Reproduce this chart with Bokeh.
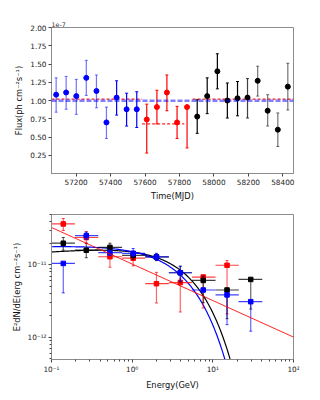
import numpy as np
from bokeh.plotting import figure
from bokeh.layouts import column
from bokeh.models import (ColumnDataSource, FixedTicker, NumeralTickFormatter,
                          CustomJSTickFormatter, Span)
from bokeh.embed import file_html
from bokeh.resources import INLINE

# ---------------- light curve data (flux in units of 1e-7 ph cm^-2 s^-1) ----------------
mjd_blue = [57084, 57142, 57201, 57259, 57318, 57376, 57435, 57493, 57552]
flux_blue = [1.08, 1.11, 1.06, 1.31, 1.13, 0.70, 1.04, 0.88, 0.88]
up_blue = [1.31, 1.33, 1.29, 1.55, 1.35, 0.91, 1.27, 1.10, 1.12]
lo_blue = [0.84, 0.88, 0.81, 1.07, 0.90, 0.48, 0.80, 0.65, 0.63]
alpha_blue = [0.55, 0.55, 0.55, 0.55, 0.55, 0.55, 1.0, 1.0, 1.0]

mjd_red = [57610, 57669, 57727, 57786, 57844]
flux_red = [0.74, 0.91, 1.11, 0.70, 0.91]
up_red = [0.95, 1.14, 1.35, 0.92, 0.92]
lo_red = [0.28, 0.68, 0.86, 0.48, 0.35]
alpha_red = [1.0, 1.0, 1.0, 1.0, 1.0]

mjd_black = [57903, 57961, 58020, 58078, 58137, 58195, 58254, 58312, 58371, 58429]
flux_black = [0.78, 1.06, 1.40, 1.00, 1.03, 1.04, 1.27, 0.86, 0.60, 1.19]
up_black = [1.01, 1.31, 1.64, 1.24, 1.26, 1.30, 1.47, 1.08, 0.83, 1.51]
lo_black = [0.55, 0.82, 1.16, 0.76, 0.79, 0.76, 1.06, 0.65, 0.37, 0.87]
alpha_black = [1.0, 1.0, 1.0, 1.0, 1.0, 0.75, 0.55, 0.55, 0.55, 0.55]

mean_flux = 0.995
block_start = [57057, 57583, 57876]
block_end = [57583, 57828, 58462]
block_level = [1.02, 0.68, 1.02]

time_ticks = [57200, 57400, 57600, 57800, 58000, 58200, 58400]
flux_ticks = [0.25, 0.50, 0.75, 1.00, 1.25, 1.50, 1.75, 2.00]

# ---------------- SED data ----------------
energy = [0.14, 0.27, 0.53, 1.03, 2.0, 3.95, 7.6, 15.0, 29.5]
e_low = [0.10, 0.195, 0.38, 0.75, 1.45, 2.85, 5.5, 10.8, 20.8]
e_high = [0.195, 0.38, 0.75, 1.45, 2.85, 5.5, 10.8, 21.0, 41.0]

sed_red = [3.7e-11, 2.4e-11, 1.3e-11, 1.24e-11, 5.5e-12, 5.7e-12, 6.8e-12, 9.9e-12]
sed_red_hi = [4.4e-11, 2.9e-11, 1.73e-11, 1.48e-11, 7.9e-12, 6.4e-12, 7.1e-12, 1.15e-11]
sed_red_lo = [3.0e-11, 2.0e-11, 9.3e-12, 9.7e-12, 2.97e-12, 2.23e-12, 2.53e-12, 2.1e-12]

sed_black = [2.0e-11, 1.6e-11, 1.75e-11, 1.36e-11, 1.29e-11, 7.8e-12, 6.1e-12, 4.5e-12, 6.3e-12]
sed_black_hi = [2.4e-11, 2.0e-11, 2.0e-11, 1.55e-11, 1.42e-11, 9.6e-12, 7.0e-12, 4.6e-12, 6.4e-12]
sed_black_lo = [1.6e-11, 1.26e-11, 1.52e-11, 1.2e-11, 1.15e-11, 5.8e-12, 3.0e-12, 1.8e-12, 2.45e-12]

sed_blue = [1.05e-11, 2.55e-11, 1.48e-11, 1.45e-11, 1.29e-11, 7.8e-12, 4.5e-12, 3.85e-12, 3.1e-12]
sed_blue_hi = [1.06e-11, 2.85e-11, 1.6e-11, 1.69e-11, 1.45e-11, 9.6e-12, 4.6e-12, 3.95e-12, 3.2e-12]
sed_blue_lo = [4.1e-12, 2.25e-11, 1.35e-11, 1.3e-11, 1.15e-11, 6.0e-12, 4.4e-12, 1.49e-12, 1.21e-12]

# spectral models: power law (red) and power law with exponential cutoff (black, blue)
pl_norm, pl_slope = 1.03e-11, -0.506
black_norm, black_slope, black_cut = 1.918e-11, 0.093, 4.18
blue_norm, blue_slope, blue_cut = 2.0e-11, 0.037, 3.71

FONT = "DejaVu Sans"
FRAME_COL = "#8c8c8c"


def style(p):
    p.outline_line_color = FRAME_COL
    p.outline_line_width = 1
    p.xgrid.visible = False
    p.ygrid.visible = False
    for ax in (p.xaxis[0], p.yaxis[0]):
        ax.axis_line_color = FRAME_COL
        ax.major_tick_line_color = "#444444"
        ax.minor_tick_line_color = "#444444"
        ax.major_tick_out = 3
        ax.major_tick_in = 0
        ax.minor_tick_out = 2
        ax.minor_tick_in = 0
        ax.major_label_text_font = FONT
        ax.major_label_text_font_size = "7.3px"
        ax.major_label_text_color = "#222222"
        ax.major_label_standoff = 2
        ax.axis_label_text_font = FONT
        ax.axis_label_text_font_size = "8.3px"
        ax.axis_label_text_font_style = "normal"
        ax.axis_label_text_color = "#111111"
        ax.axis_label_standoff = 3


# ---------------- top: light curve ----------------
p1 = figure(width=308, height=208, min_border_left=51, min_border_right=15,
            min_border_top=27, min_border_bottom=35,
            x_range=(57057, 58462), y_range=(0, 2.0),
            title="1e-7", output_backend="svg", toolbar_location=None)
style(p1)
p1.title.align = "left"
p1.title.text_font = FONT
p1.title.text_font_size = "6.3px"
p1.title.text_font_style = "normal"
p1.title.text_color = "#333333"
p1.title.standoff = 1
p1.title.offset = 0
p1.xaxis.ticker = FixedTicker(ticks=time_ticks, minor_ticks=[])
p1.yaxis.ticker = FixedTicker(ticks=flux_ticks, minor_ticks=[])
p1.yaxis.formatter = NumeralTickFormatter(format="0.00")
p1.xaxis.axis_label = "Time(MJD)"
p1.yaxis.axis_label = "Flux(ph cm\u207b\u00b2s\u207b\u00b9)"

p1.add_layout(Span(location=mean_flux, dimension="width", line_color="blue",
                   line_alpha=0.5, line_width=2.5, line_dash="5 2"))
p1.segment(x0=block_start, x1=block_end, y0=block_level, y1=block_level,
           line_color="red", line_width=1.2, line_dash="3 2", line_alpha=0.85)

for t, f, up, lo, al, col in [
        (mjd_blue, flux_blue, up_blue, lo_blue, alpha_blue, "blue"),
        (mjd_red, flux_red, up_red, lo_red, alpha_red, "red"),
        (mjd_black, flux_black, up_black, lo_black, alpha_black, "black")]:
    src = ColumnDataSource(dict(t=t, f=f, up=up, lo=lo, a=al))
    p1.segment(x0="t", x1="t", y0="lo", y1="up", source=src,
               line_color=col, line_alpha="a", line_width=1.2)
    p1.scatter(x="t", y="up", source=src, marker="dash", size=3,
               line_color=col, line_alpha="a", line_width=1)
    p1.scatter(x="t", y="lo", source=src, marker="dash", size=3,
               line_color=col, line_alpha="a", line_width=1)
    p1.scatter(x="t", y="f", source=src, marker="circle", size=5,
               fill_color=col, line_color=col)

# ---------------- bottom: SED ----------------
p2 = figure(width=308, height=184, min_border_left=50, min_border_right=15,
            min_border_top=6, min_border_bottom=32,
            x_axis_type="log", y_axis_type="log",
            x_range=(0.1, 100), y_range=(4.9e-13, 5.0e-11),
            output_backend="svg", toolbar_location=None)
style(p2)
sup_js = """
const sup = {"-": "\\u207b", "0": "\\u2070", "1": "\\u00b9", "2": "\\u00b2", "3": "\\u00b3",
             "4": "\\u2074", "5": "\\u2075", "6": "\\u2076", "7": "\\u2077", "8": "\\u2078", "9": "\\u2079"};
const e = Math.round(Math.log10(tick));
return "10" + String(e).split("").map(c => sup[c]).join("");
"""
p2.xaxis.ticker = FixedTicker(
    ticks=[0.1, 1, 10, 100],
    minor_ticks=[m * 10.0 ** d for d in (-1, 0, 1) for m in range(2, 10)])
p2.yaxis.ticker = FixedTicker(
    ticks=[1e-12, 1e-11],
    minor_ticks=[m * 10.0 ** d for d in (-13, -12, -11) for m in range(2, 10)])
p2.xaxis.formatter = CustomJSTickFormatter(code=sup_js)
p2.yaxis.formatter = CustomJSTickFormatter(code=sup_js)
p2.xaxis.axis_label = "Energy(GeV)"
p2.yaxis.axis_label = "E\u00b2dN/dE(erg cm\u207b\u00b2s\u207b\u00b9)"

e_grid = np.logspace(-1, 2, 300)
p2.line(e_grid, black_norm * e_grid ** black_slope * np.exp(-e_grid / black_cut),
        line_color="black", line_width=1.2)
p2.line(e_grid, blue_norm * e_grid ** blue_slope * np.exp(-e_grid / blue_cut),
        line_color="blue", line_width=1.2)

for f, hi, lo, col in [(sed_red, sed_red_hi, sed_red_lo, "red"),
                       (sed_black, sed_black_hi, sed_black_lo, "black"),
                       (sed_blue, sed_blue_hi, sed_blue_lo, "blue")]:
    n = len(f)
    src = ColumnDataSource(dict(e=energy[:n], el=e_low[:n], eh=e_high[:n],
                                f=f, hi=hi, lo=lo))
    p2.segment(x0="el", x1="eh", y0="f", y1="f", source=src,
               line_color=col, line_alpha=0.75, line_width=1.2)
    p2.segment(x0="e", x1="e", y0="lo", y1="hi", source=src,
               line_color=col, line_alpha=0.6, line_width=1.2)
    p2.scatter(x="e", y="hi", source=src, marker="dash", size=3,
               line_color=col, line_alpha=0.7)
    p2.scatter(x="e", y="lo", source=src, marker="dash", size=3,
               line_color=col, line_alpha=0.7)
    p2.scatter(x="e", y="f", source=src, marker="square", size=4.5,
               fill_color=col, line_color=col)

p2.line(e_grid, pl_norm * e_grid ** pl_slope, line_color="red", line_width=1)

layout = column(p1, p2)
open("out.html", "w", encoding="utf-8").write(file_html(layout, INLINE))
